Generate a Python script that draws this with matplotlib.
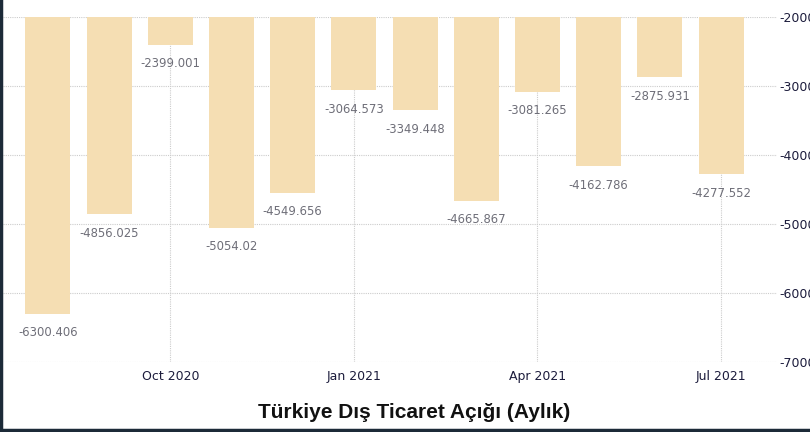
import matplotlib.pyplot as plt
from matplotlib.lines import Line2D

months = ["Aug 2020", "Sep 2020", "Oct 2020", "Nov 2020", "Dec 2020", "Jan 2021",
          "Feb 2021", "Mar 2021", "Apr 2021", "May 2021", "Jun 2021", "Jul 2021"]
deficit = [-6300.406, -4856.025, -2399.001, -5054.02, -4549.656, -3064.573,
           -3349.448, -4665.867, -3081.265, -4162.786, -2875.931, -4277.552]
tick_months = ["Oct 2020", "Jan 2021", "Apr 2021", "Jul 2021"]
y_ticks = [-2000, -3000, -4000, -5000, -6000, -7000]

base = -2000

fig = plt.figure(figsize=(8.1, 4.32), dpi=100)
ax = fig.add_axes([3 / 810, 1 - 362 / 432, 774 / 810, 345 / 432])

x = list(range(len(months)))
heights = [v - base for v in deficit]
ax.bar(x, heights, bottom=base, width=0.735, color="#f5deb3", zorder=2)

for xi, v in zip(x, deficit):
    ax.annotate(str(v), (xi, v), xytext=(0, -9), textcoords="offset points",
                ha="center", va="top", fontsize=8.4, color="#6e6e78", zorder=3)

ax.set_ylim(-7000, -2000)
ax.set_xlim(-0.735, len(months) - 1 + 0.915)
ax.set_yticks(y_ticks)
ax.set_yticklabels([str(t) for t in y_ticks])
ax.yaxis.tick_right()
ax.set_xticks([months.index(m) for m in tick_months])
ax.set_xticklabels(tick_months)
ax.tick_params(axis="both", length=0, labelsize=9, labelcolor="#1c1c3c")
ax.tick_params(axis="y", pad=2)
ax.tick_params(axis="x", pad=6)

ax.grid(True, color="#cccccc", linestyle=(0, (1, 1)), linewidth=0.8, zorder=0)
for s in ax.spines.values():
    s.set_visible(False)

fig.text(414 / 810, 1 - 413 / 432, "Türkiye Dış Ticaret Açığı (Aylık)",
         ha="center", va="center", fontsize=15, fontweight="bold",
         family="Liberation Sans", color="#111111")

# dark frame on the left and bottom edges
fig.add_artist(Line2D([0.001, 0.001], [0, 1], transform=fig.transFigure,
                      color="#1c2a38", linewidth=2.5))
fig.add_artist(Line2D([0, 1], [0.004, 0.004], transform=fig.transFigure,
                      color="#1c2a38", linewidth=2.5))

fig.savefig("out.png", dpi=100)
